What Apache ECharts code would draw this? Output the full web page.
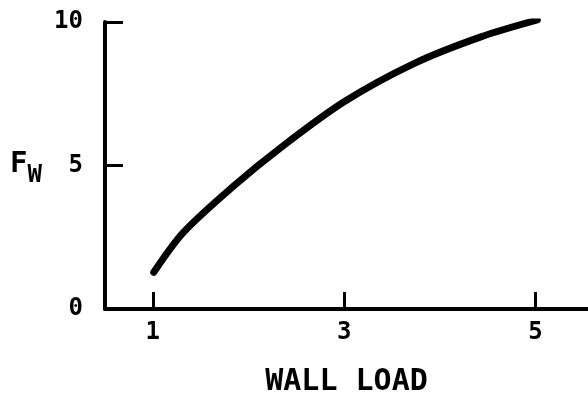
<!DOCTYPE html>
<html>
<head>
<meta charset="utf-8">
<script src="https://cdn.jsdelivr.net/npm/echarts@6/dist/echarts.min.js"></script>
<style>
  html, body { margin: 0; padding: 0; background: #fff; }
  #chart { width: 588px; height: 402px; }
</style>
</head>
<body>
<div id="chart"></div>
<script>
// wall load vs F_W
const wallLoad = [1.01, 1.32, 1.85, 2.34, 3.0, 3.73, 4.43, 5.02]
const fw = [1.28, 2.67, 4.3, 5.63, 7.22, 8.55, 9.48, 10.07]
const xTicks = [1, 3, 5]
const yTicks = [0, 5, 10]

const font = 'DejaVu Sans Mono'
const chart = echarts.init(document.getElementById('chart'))

const option = {
  animation: false,
  grid: { left: 105, right: 0, top: 22, bottom: 92 },
  xAxis: {
    type: 'value',
    min: 0.5,
    max: 5.55,
    name: 'WALL LOAD',
    nameLocation: 'middle',
    nameGap: 58,
    nameTextStyle: { color: '#000', fontFamily: font, fontSize: 30, fontWeight: 'bold' },
    axisLine: { lineStyle: { color: '#000', width: 4 } },
    axisTick: { inside: true, length: 17, customValues: xTicks, lineStyle: { color: '#000', width: 3 } },
    axisLabel: { customValues: xTicks, color: '#000', fontFamily: font, fontSize: 24, fontWeight: 'bold', margin: 12 },
    splitLine: { show: false }
  },
  yAxis: {
    type: 'value',
    min: 0,
    max: 10,
    axisLine: { show: true, lineStyle: { color: '#000', width: 4 } },
    axisTick: { show: true, inside: true, length: 18, customValues: yTicks, lineStyle: { color: '#000', width: 3 } },
    axisLabel: { customValues: yTicks, color: '#000', fontFamily: font, fontSize: 24, fontWeight: 'bold', margin: 22 },
    splitLine: { show: false }
  },
  graphic: [{
    type: 'text',
    left: 10,
    top: 150,
    style: {
      text: '{f|F}{w|W}',
      rich: {
        f: { fontFamily: font, fontSize: 29, fontWeight: 'bold', fill: '#000' },
        w: { fontFamily: font, fontSize: 24, fontWeight: 'bold', fill: '#000', padding: [22, 0, 0, 0] }
      }
    }
  }],
  series: [{
    type: 'line',
    data: wallLoad.map((x, i) => [x, fw[i]]),
    smooth: 0.3,
    showSymbol: false,
    lineStyle: { color: '#000', width: 7, cap: 'round' }
  }]
}
chart.setOption(option)
</script>
</body>
</html>
